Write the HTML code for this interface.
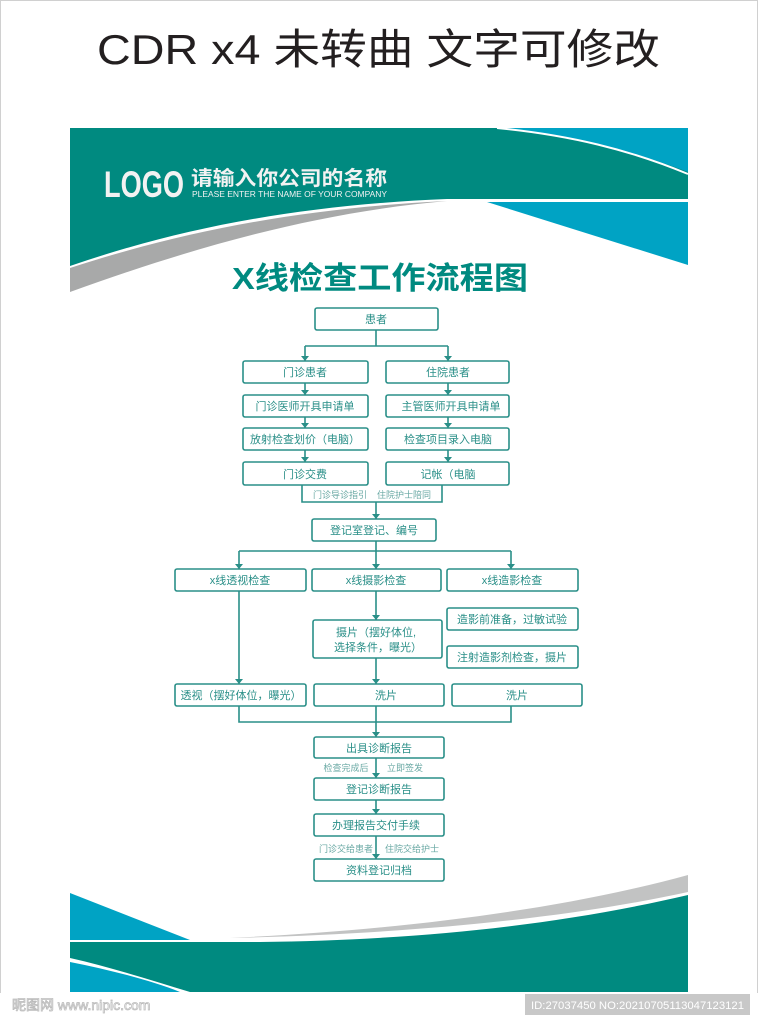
<!DOCTYPE html>
<html><head><meta charset="utf-8"><style>
html,body{margin:0;padding:0;background:#fff;}
svg{display:block;}
text{font-family:"Liberation Sans","Noto Sans CJK SC",sans-serif;}
</style></head><body>
<svg width="758" height="1024" viewBox="0 0 758 1024" xmlns="http://www.w3.org/2000/svg">
<rect x="0.5" y="0.5" width="757" height="1023" fill="#fff" stroke="#d0d0d0"/>
<text x="97" y="64" font-size="42" fill="#231f20" textLength="563" lengthAdjust="spacingAndGlyphs">CDR x4 未转曲 文字可修改</text>

<!-- poster background -->
<rect x="70" y="128" width="618" height="865" fill="#fff"/>
<!-- header -->
<path d="M70,128 L688,128 L688,199 L447,199 C300,205 180,228 70,266 Z" fill="#008a80"/>
<path d="M70,268 C180,232 300,208 447,201 C320,212 200,245 70,292 Z" fill="#a8a9a9"/>
<path d="M497,128 L688,128 L688,172 C630,150 570,135 497,128 Z" fill="#00a3c4"/>
<path d="M497,128 C570,135 630,150 688,174" fill="none" stroke="#fff" stroke-width="2"/>
<path d="M487,202 L688,202 L688,265 Z" fill="#00a3c4"/>
<text x="104" y="197" font-size="37" font-weight="bold" fill="#f2f2f2" textLength="80" lengthAdjust="spacingAndGlyphs">LOGO</text>
<text x="191" y="185" font-size="20" font-weight="bold" fill="#f2f2f2" textLength="196" lengthAdjust="spacingAndGlyphs">请输入你公司的名称</text>
<text x="192" y="197" font-size="8" fill="#f2f2f2" textLength="195" lengthAdjust="spacingAndGlyphs">PLEASE ENTER THE NAME OF YOUR COMPANY</text>
<text x="232" y="289" font-size="31" font-weight="bold" fill="#008a80" textLength="296" lengthAdjust="spacingAndGlyphs">X线检查工作流程图</text>

<!-- footer -->
<path d="M70,893 L190,940 L70,940 Z" fill="#00a3c4"/>
<path d="M230,938 C400,930 560,910 688,875 L688,892 C560,920 400,934 230,938 Z" fill="#c2c3c3"/>
<path d="M70,942 L260,942 C420,940 560,925 688,895 L688,992 L190,992 C150,980 110,967 70,958 Z" fill="#008a80"/>
<path d="M70,962 C110,970 150,980 180,992 L70,992 Z" fill="#00a3c4"/>
<rect x="0" y="993" width="758" height="31" fill="#fff"/>
<text x="12" y="1010" font-size="14" fill="#fff" stroke="#bcbcbc" stroke-width="0.8">昵图网 www.nipic.com</text>
<rect x="525" y="994" width="225" height="21" fill="#c8c8c8"/>
<text x="531" y="1009" font-size="11" fill="#fff" textLength="213" lengthAdjust="spacingAndGlyphs">ID:27037450 NO:20210705113047123121</text>

<!-- flowchart -->
<g fill="none" stroke="#2a8f88" stroke-width="1.6">
<path d="M376,330 V346 M305,346 H448 M305,346 V361 M448,346 V361"/>
<path d="M305,383 V395 M448,383 V395 M305,417 V428 M448,417 V428 M305,450 V462 M448,450 V462"/>
<path d="M302,485 V502 H442 V485 M376,502 V519"/>
<path d="M376,541 V569 M239,551 H511 M239,551 V569 M511,551 V569"/>
<path d="M239,591 V684 M376,591 V620 M376,658 V684"/>
<path d="M239,706 V722 H511 V706 M376,706 V737"/>
<path d="M376,758 V778 M376,800 V814 M376,836 V859"/>
</g>
<g fill="#2a8f88">
<path d="M301,356 h8 l-4,5z M444,356 h8 l-4,5z"/>
<path d="M301,390 h8 l-4,5z M444,390 h8 l-4,5z M301,423 h8 l-4,5z M444,423 h8 l-4,5z M301,457 h8 l-4,5z M444,457 h8 l-4,5z"/>
<path d="M372,514 h8 l-4,5z M235,564 h8 l-4,5z M372,564 h8 l-4,5z M507,564 h8 l-4,5z"/>
<path d="M372,615 h8 l-4,5z M235,679 h8 l-4,5z M372,679 h8 l-4,5z M372,732 h8 l-4,5z"/>
<path d="M372,773 h8 l-4,5z M372,809 h8 l-4,5z M372,854 h8 l-4,5z"/>
</g>
<g fill="#fff" stroke="#2a8f88" stroke-width="1.6">
<rect x="315" y="308" width="123" height="22" rx="2"/>
<rect x="243" y="361" width="125" height="22" rx="2"/>
<rect x="386" y="361" width="123" height="22" rx="2"/>
<rect x="243" y="395" width="125" height="22" rx="2"/>
<rect x="386" y="395" width="123" height="22" rx="2"/>
<rect x="243" y="428" width="125" height="22" rx="2"/>
<rect x="386" y="428" width="123" height="22" rx="2"/>
<rect x="243" y="462" width="125" height="23" rx="2"/>
<rect x="386" y="462" width="123" height="23" rx="2"/>
<rect x="312" y="519" width="124" height="22" rx="2"/>
<rect x="175" y="569" width="131" height="22" rx="2"/>
<rect x="312" y="569" width="129" height="22" rx="2"/>
<rect x="447" y="569" width="131" height="22" rx="2"/>
<rect x="313" y="620" width="129" height="38" rx="2"/>
<rect x="447" y="608" width="131" height="22" rx="2"/>
<rect x="447" y="646" width="131" height="22" rx="2"/>
<rect x="175" y="684" width="131" height="22" rx="2"/>
<rect x="314" y="684" width="130" height="22" rx="2"/>
<rect x="452" y="684" width="130" height="22" rx="2"/>
<rect x="314" y="737" width="130" height="21" rx="2"/>
<rect x="314" y="778" width="130" height="22" rx="2"/>
<rect x="314" y="814" width="130" height="22" rx="2"/>
<rect x="314" y="859" width="130" height="22" rx="2"/>
</g>
<g font-size="11" fill="#2a8f88" text-anchor="middle">
<text x="376" y="323">患者</text>
<text x="305" y="376">门诊患者</text>
<text x="448" y="376">住院患者</text>
<text x="305" y="410">门诊医师开具申请单</text>
<text x="451" y="410">主管医师开具申请单</text>
<text x="305" y="443">放射检查划价（电脑）</text>
<text x="448" y="443">检查项目录入电脑</text>
<text x="305" y="478">门诊交费</text>
<text x="448" y="478">记帐（电脑</text>
<text x="374" y="534">登记室登记、编号</text>
<text x="240" y="584">x线透视检查</text>
<text x="376" y="584">x线摄影检查</text>
<text x="512" y="584">x线造影检查</text>
<text x="376" y="636">摄片（摆好体位,</text>
<text x="378" y="651">选择条件，曝光）</text>
<text x="512" y="623">造影前准备，过敏试验</text>
<text x="512" y="661">注射造影剂检查，摄片</text>
<text x="241" y="699">透视（摆好体位，曝光）</text>
<text x="386" y="699">洗片</text>
<text x="517" y="699">洗片</text>
<text x="379" y="752">出具诊断报告</text>
<text x="379" y="793">登记诊断报告</text>
<text x="376" y="829">办理报告交付手续</text>
<text x="379" y="874">资料登记归档</text>
</g>
<g font-size="9" fill="#6aa9a4" font-family="Liberation Serif,Noto Serif CJK SC,serif" text-anchor="middle">
<text x="340" y="498">门诊导诊指引</text>
<text x="404" y="498">住院护士陪同</text>
<text x="346" y="771">检查完成后</text>
<text x="405" y="771">立即签发</text>
<text x="346" y="852">门诊交给患者</text>
<text x="412" y="852">住院交给护士</text>
</g>
</svg>
</body></html>
